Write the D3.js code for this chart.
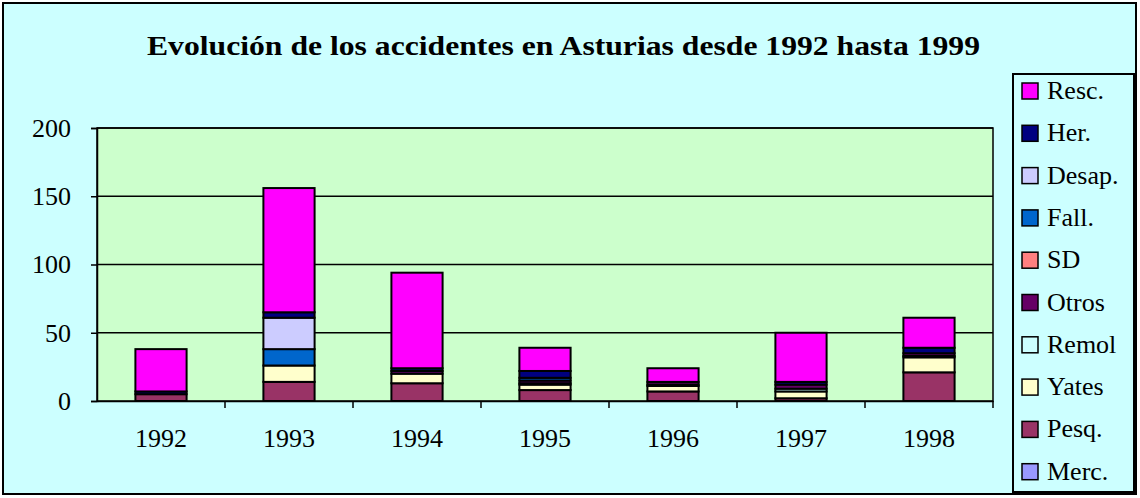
<!DOCTYPE html>
<html lang="es">
	<head>
		<meta charset="utf-8">
		<title>Evolución de los accidentes en Asturias</title>
		<script type="text/javascript" src="https://cdn.jsdelivr.net/npm/d3@7"></script>
		<style type="text/css">
			body { margin: 0; background: #fff; }
		</style>
	</head>
	<body>
		<script>
			var years = ["1992", "1993", "1994", "1995", "1996", "1997", "1998"];
			// bottom to top in the stack
			var seriesNames = ["Merc.", "Pesq.", "Yates", "Remol", "Otros", "SD", "Fall.", "Desap.", "Her.", "Resc."];
			var seriesColors = ["#9999ff", "#993366", "#ffffcc", "#ccffff", "#660066", "#ff8080", "#0066cc", "#ccccff", "#000080", "#ff00ff"];

			var merc  = [0, 0, 0, 0, 0, 0, 0];
			var pesq  = [5, 14, 13, 8, 7, 2, 21];
			var yates = [0, 12, 7, 4, 4, 5, 11];
			var remol = [0, 0, 0, 1, 1, 2, 1];
			var otros = [0, 0, 2, 2, 2, 3, 2];
			var sd    = [0, 0, 0, 0, 0, 0, 0];
			var fall  = [0, 12, 0, 2, 0, 0, 0];
			var desap = [0, 23, 0, 0, 0, 0, 0];
			var her   = [2, 4, 2, 5, 0, 2, 4];
			var resc  = [31, 91, 70, 17, 10, 36, 22];

			var yTicks = [0, 50, 100, 150, 200];

			var seriesValues = [merc, pesq, yates, remol, otros, sd, fall, desap, her, resc];

			var serif = "'Liberation Serif', 'Times New Roman', serif";

			var outerWidth = 1140,
				outerHeight = 498,
				plot = {left: 97, right: 993, top: 128, bottom: 401};

			var table = years.map(function(y, i) {
				var row = {year: y};
				seriesNames.forEach(function(s, j) { row[s] = seriesValues[j][i]; });
				return row;
			});

			var svg = d3.select("body")
						.append("svg")
						.attr("width", outerWidth)
						.attr("height", outerHeight);

			// chart area
			svg.append("rect")
				.attr("x", 3).attr("y", 3)
				.attr("width", 1133).attr("height", 491)
				.attr("fill", "#ccffff")
				.attr("stroke", "#000")
				.attr("stroke-width", 2);

			svg.append("text")
				.attr("x", 147)
				.attr("y", 55)
				.style("font-family", serif)
				.attr("font-weight", "bold")
				.attr("font-size", 28)
				.attr("textLength", 833)
				.attr("lengthAdjust", "spacingAndGlyphs")
				.text("Evolución de los accidentes en Asturias desde 1992 hasta 1999");

			var x = d3.scaleBand()
						.domain(years)
						.range([plot.left, plot.right])
						.paddingInner(0.6)
						.paddingOuter(0.3);

			var y = d3.scaleLinear()
						.domain([0, 200])
						.range([plot.bottom, plot.top]);

			// plot area
			svg.append("rect")
				.attr("x", plot.left).attr("y", plot.top)
				.attr("width", plot.right - plot.left)
				.attr("height", plot.bottom - plot.top)
				.attr("fill", "#ccffcc")
				.attr("stroke", "#000")
				.attr("stroke-width", 1.5);

			svg.append("g")
				.selectAll("line")
				.data(yTicks.slice(1))
				.enter().append("line")
				.attr("x1", plot.left).attr("x2", plot.right)
				.attr("y1", function(d) { return y(d); })
				.attr("y2", function(d) { return y(d); })
				.attr("stroke", "#000")
				.attr("stroke-width", 1.5);

			var yAxis = svg.append("g")
				.attr("transform", "translate(" + plot.left + ",0)")
				.call(d3.axisLeft(y).tickValues(yTicks).tickSize(6).tickPadding(20));
			yAxis.select(".domain").attr("stroke-width", 1.5);
			yAxis.selectAll(".tick line").attr("stroke-width", 1.5);
			yAxis.selectAll("text")
				.style("font-family", serif)
				.attr("font-size", 26)
				.attr("fill", "#000");

			var xAxis = svg.append("g")
				.attr("transform", "translate(0," + plot.bottom + ")")
				.call(d3.axisBottom(x).tickSize(0).tickPadding(28));
			xAxis.select(".domain").attr("stroke-width", 1.5);
			xAxis.selectAll("text")
				.style("font-family", serif)
				.attr("font-size", 26)
				.attr("fill", "#000");

			// tick marks between categories
			xAxis.selectAll(".sep")
				.data(years)
				.enter().append("line")
				.attr("class", "sep")
				.attr("x1", function(d) { return x(d) - x.step() * x.paddingInner() / 2 + x.step(); })
				.attr("x2", function(d) { return x(d) - x.step() * x.paddingInner() / 2 + x.step(); })
				.attr("y1", 0).attr("y2", 7)
				.attr("stroke", "#000")
				.attr("stroke-width", 1.5);

			var stacked = d3.stack().keys(seriesNames)(table);

			svg.append("g")
				.selectAll("g")
				.data(stacked)
				.enter().append("g")
				.attr("fill", function(d, i) { return seriesColors[i]; })
				.selectAll("rect")
				.data(function(d) { return d; })
				.enter().append("rect")
				.attr("x", function(d) { return x(d.data.year); })
				.attr("width", x.bandwidth())
				.attr("y", function(d) { return y(d[1]); })
				.attr("height", function(d) { return y(d[0]) - y(d[1]); })
				.attr("stroke", "#000")
				.attr("stroke-width", 2);

			// legend
			var legend = svg.append("g");
			legend.append("rect")
				.attr("x", 1013).attr("y", 74)
				.attr("width", 121).attr("height", 418)
				.attr("fill", "#ccffff")
				.attr("stroke", "#000")
				.attr("stroke-width", 2);

			var item = legend.selectAll(".item")
				.data(seriesNames.slice().reverse())
				.enter().append("g")
				.attr("class", "item")
				.attr("transform", function(d, i) { return "translate(1022," + (91 + i * 42.3) + ")"; });

			item.append("rect")
				.attr("x", 0).attr("y", -8)
				.attr("width", 16).attr("height", 16)
				.attr("fill", function(d) { return seriesColors[seriesNames.indexOf(d)]; })
				.attr("stroke", "#000")
				.attr("stroke-width", 1.5);

			item.append("text")
				.attr("x", 25)
				.attr("y", 8)
				.style("font-family", serif)
				.attr("font-size", 26)
				.text(function(d) { return d; });
		</script>
	</body>
</html>
